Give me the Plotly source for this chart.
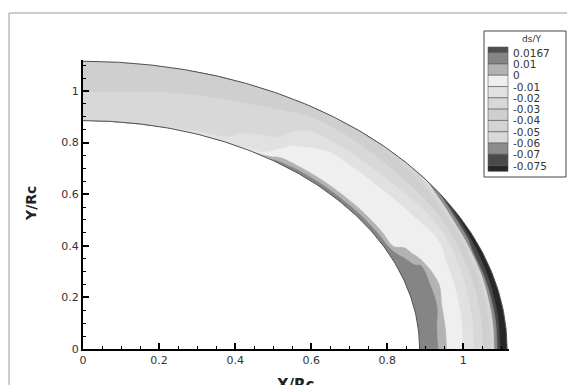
import numpy as np
import plotly.graph_objects as go

# ---------------- data ----------------
R_IN = 0.885      # inner radius (X/Rc units)
R_OUT = 1.115     # outer radius

ANGLES = [0, 5, 10, 15, 20, 23, 26, 30, 34, 38, 45, 50, 55, 58, 65, 75, 90]   # deg
FRACS = [0, 0.04, 0.1, 0.2, 0.26, 0.32, 0.4, 0.5, 0.6, 0.7, 0.8, 0.86, 0.9, 0.95, 1.0]  # inner->outer

# ds/Y estimated along each radial line (one list per angle, inner -> outer)
DS_0 = [.014, .0133, .0123, .0107, .006, -.0015, -.0055, -.0108, -.0185, -.028, -.040, -.065, -.073, -.0788, -.085]
DS_5 = [.014, .0133, .0123, .0107, .006, -.0014, -.0052, -.010, -.0177, -.027, -.0388, -.0625, -.0725, -.078, -.084]
DS_10 = [.014, .0134, .0125, .0109, .010, -.0005, -.0043, -.009, -.0167, -.026, -.0375, -.060, -.072, -.0773, -.083]
DS_15 = [.014, .0135, .0126, .0112, .0104, .004, -.0029, -.0076, -.0145, -.0244, -.0363, -.055, -.071, -.0762, -.082]
DS_20 = [.014, .0134, .0125, .011, .0102, 0.0, -.0031, -.0069, -.012, -.0222, -.0343, -.050, -.070, -.075, -.081]
DS_23 = [.014, .0131, .0116, .004, -.0011, -.0026, -.0047, -.0074, -.010, -.020, -.0329, -.045, -.065, -.074, -.080]
DS_26 = [.014, .0113, -.0002, -.0022, -.0033, -.0045, -.006, -.008, -.010, -.019, -.0314, -.040, -.060, -.0725, -.079]
DS_30 = [.014, .0108, -.0004, -.0024, -.0036, -.0048, -.0064, -.0084, -.0117, -.020, -.030, -.0386, -.050, -.0667, -.076]
DS_34 = [.014, .0108, -.0004, -.0026, -.0038, -.0051, -.0068, -.0089, -.0138, -.0217, -.030, -.036, -.040, -.0543, -.068]
DS_38 = [.014, .0108, -.0005, -.0029, -.0043, -.0057, -.0076, -.010, -.0163, -.0229, -.030, -.0354, -.0377, -.0429, -.050]
DS_45 = [.014, .0108, -.0005, -.0029, -.0043, -.0057, -.0076, -.010, -.0167, -.0229, -.0288, -.0327, -.0353, -.0387, -.042]
DS_50 = [.013, .0105, -.0006, -.0029, -.0044, -.0058, -.0076, -.010, -.0163, -.0222, -.0278, -.0311, -.0334, -.0362, -.039]
DS_55 = [.012, .0083, -.002, -.006, -.008, -.0097, -.0115, -.014, -.018, -.0224, -.0276, -.0305, -.0323, -.0347, -.037]
DS_58 = [.005, -.009, -.012, -.015, -.017, -.019, -.021, -.023, -.025, -.027, -.0295, -.031, -.0325, -.0345, -.037]
DS_65 = [-.017, -.0185, -.020, -.021, -.022, -.023, -.024, -.026, -.028, -.030, -.032, -.033, -.034, -.035, -.036]
DS_75 = [-.020, -.021, -.022, -.023, -.024, -.025, -.026, -.028, -.030, -.0318, -.0335, -.0346, -.0353, -.0361, -.037]
DS_90 = [-.021, -.0215, -.022, -.0235, -.025, -.0265, -.0285, -.0305, -.032, -.0336, -.0351, -.0359, -.0365, -.0373, -.038]

DS_BY_ANGLE = [DS_0, DS_5, DS_10, DS_15, DS_20, DS_23, DS_26, DS_30, DS_34, DS_38,
               DS_45, DS_50, DS_55, DS_58, DS_65, DS_75, DS_90]

# contour levels (legend order, top -> bottom) and band colours
LEVELS = [0.0167, 0.01, 0, -0.01, -0.02, -0.03, -0.04, -0.05, -0.06, -0.07, -0.075]
LEVEL_LABELS = ["0.0167", "0.01", "0", "-0.01", "-0.02", "-0.03", "-0.04", "-0.05", "-0.06", "-0.07", "-0.075"]
# 12 bands: above LEVELS[0], between consecutive levels, below LEVELS[-1]
BAND_COLORS = ["#4f4f4f", "#858585", "#b3b3b3", "#efefef", "#e1e1e1", "#d8d8d8",
               "#cfcfcf", "#d3d3d3", "#d9d9d9", "#8c8c8c", "#4a4a4a", "#262626"]

X_TICKS = [0, 0.2, 0.4, 0.6, 0.8, 1]
Y_TICKS = [0, 0.2, 0.4, 0.6, 0.8, 1]

# ---------------- geometry ----------------
Z = np.array(DS_BY_ANGLE).T                     # (len(FRACS), len(ANGLES))
th = np.radians(ANGLES)
rr = R_IN + np.array(FRACS) * (R_OUT - R_IN)
XG = rr[:, None] * np.cos(th)[None, :]
YG = rr[:, None] * np.sin(th)[None, :]

hidden_axis = dict(showgrid=False, showline=False, showticklabels="none",
                   minorgridcount=0, startline=False, endline=False,
                   gridcolor="rgba(0,0,0,0)", linecolor="rgba(0,0,0,0)")

fig = go.Figure()
fig.add_trace(go.Carpet(a=ANGLES, b=FRACS, x=XG, y=YG, carpet="ring",
                        aaxis=hidden_axis, baxis=hidden_axis))

zmin, zmax = float(Z.min()), float(Z.max())
n = len(LEVELS)


def band_fill(shade_op, value, col):
    # plotly shades the part of the carpet that violates the constraint
    fig.add_trace(go.Contourcarpet(a=ANGLES, b=FRACS, z=Z, carpet="ring",
                                   contours=dict(type="constraint", operation=shade_op, value=value),
                                   fillcolor=col, line=dict(width=0.6, color=col),
                                   showlegend=False))


# whole ring in the colour of the lowest band that occurs, then stack z > level fills upward
base_idx = max(k for k in range(len(BAND_COLORS)) if k == 0 or LEVELS[k - 1] > zmin)
band_fill(">", zmax + 1.0, BAND_COLORS[base_idx])
for k in range(n - 1, -1, -1):
    if not (zmin < LEVELS[k] < zmax):
        continue
    band_fill("<", LEVELS[k], BAND_COLORS[k])

# ring outlines
arc = np.radians(np.linspace(0, 90, 181))
for R in (R_IN, R_OUT):
    fig.add_trace(go.Scatter(x=R * np.cos(arc), y=R * np.sin(arc), mode="lines",
                             line=dict(color="#505050", width=1), showlegend=False, hoverinfo="skip"))

# ---------------- layout ----------------
W, H = 567, 385
PL, PR, PT, PB = 83, 509, 60, 349


def fx(p):
    return (p - PL) / (PR - PL)


def fy(p):
    return (PB - p) / (PB - PT)


tickfont = dict(family="DejaVu Sans", size=11, color="#333333")
axis_common = dict(range=[0, 1.12], tickmode="array", ticks="inside", ticklen=6, tickwidth=1.5,
                   tickcolor="black", showline=True, linecolor="black", linewidth=2,
                   showgrid=False, zeroline=False, tickfont=tickfont,
                   minor=dict(dtick=0.05, tick0=0, ticks="inside", ticklen=3, tickwidth=1,
                              tickcolor="black", showgrid=False))

shapes = []
annotations = []

# outer frame (only left and top edges fall inside the picture)
shapes.append(dict(type="rect", xref="paper", yref="paper", x0=fx(9), x1=fx(575), y0=fy(395), y1=fy(13),
                   line=dict(color="#9a9a9a", width=1), fillcolor="rgba(0,0,0,0)", layer="above"))

# contour legend box
shapes.append(dict(type="rect", xref="paper", yref="paper", x0=fx(484), x1=fx(566), y0=fy(177), y1=fy(31),
                   line=dict(color="#444444", width=1), fillcolor="white", layer="above"))
annotations.append(dict(text="ds/Y", xref="paper", yref="paper", x=fx(531), y=fy(39), showarrow=False,
                        xanchor="center", yanchor="middle", font=dict(family="DejaVu Sans", size=9, color="#333")))

sw_x0, sw_x1 = 488, 508
step = 11.3
top = 47.0
first = top + step / 2
edges = [top] + [first + k * step for k in range(n)] + [first + (n - 1) * step + step / 2]
for k, col in enumerate(BAND_COLORS):
    shapes.append(dict(type="rect", xref="paper", yref="paper", x0=fx(sw_x0), x1=fx(sw_x1),
                       y0=fy(edges[k + 1]), y1=fy(edges[k]),
                       line=dict(color="#555555", width=0.6), fillcolor=col, layer="above"))
for k, lab in enumerate(LEVEL_LABELS):
    annotations.append(dict(text=lab, xref="paper", yref="paper", x=fx(511), y=fy(edges[k + 1]),
                            showarrow=False, xanchor="left", yanchor="middle",
                            font=dict(family="DejaVu Sans", size=10.5, color="#333")))

# axis titles
annotations.append(dict(text="<b>Y/Rc</b>", xref="paper", yref="paper", x=fx(31), y=fy(204), textangle=-90,
                        showarrow=False, xanchor="center", yanchor="middle",
                        font=dict(family="DejaVu Sans", size=14, color="#222")))
annotations.append(dict(text="<b>X/Rc</b>", xref="paper", yref="paper", x=fx(296), y=fy(374),
                        showarrow=False, xanchor="center", yanchor="top",
                        font=dict(family="DejaVu Sans", size=15, color="#222")))

fig.update_layout(
    width=W, height=H,
    margin=dict(l=PL, r=W - PR, t=PT, b=H - PB, pad=0),
    paper_bgcolor="white", plot_bgcolor="white",
    xaxis=dict(axis_common, tickvals=X_TICKS, ticktext=[f"{v:g}" for v in X_TICKS]),
    yaxis=dict(axis_common, tickvals=Y_TICKS, ticktext=[f"{v:g}" for v in Y_TICKS]),
    shapes=shapes, annotations=annotations, showlegend=False,
)

fig.write_html("out.html", config={"displayModeBar": False},
               post_script="document.body.style.margin='0px';")
